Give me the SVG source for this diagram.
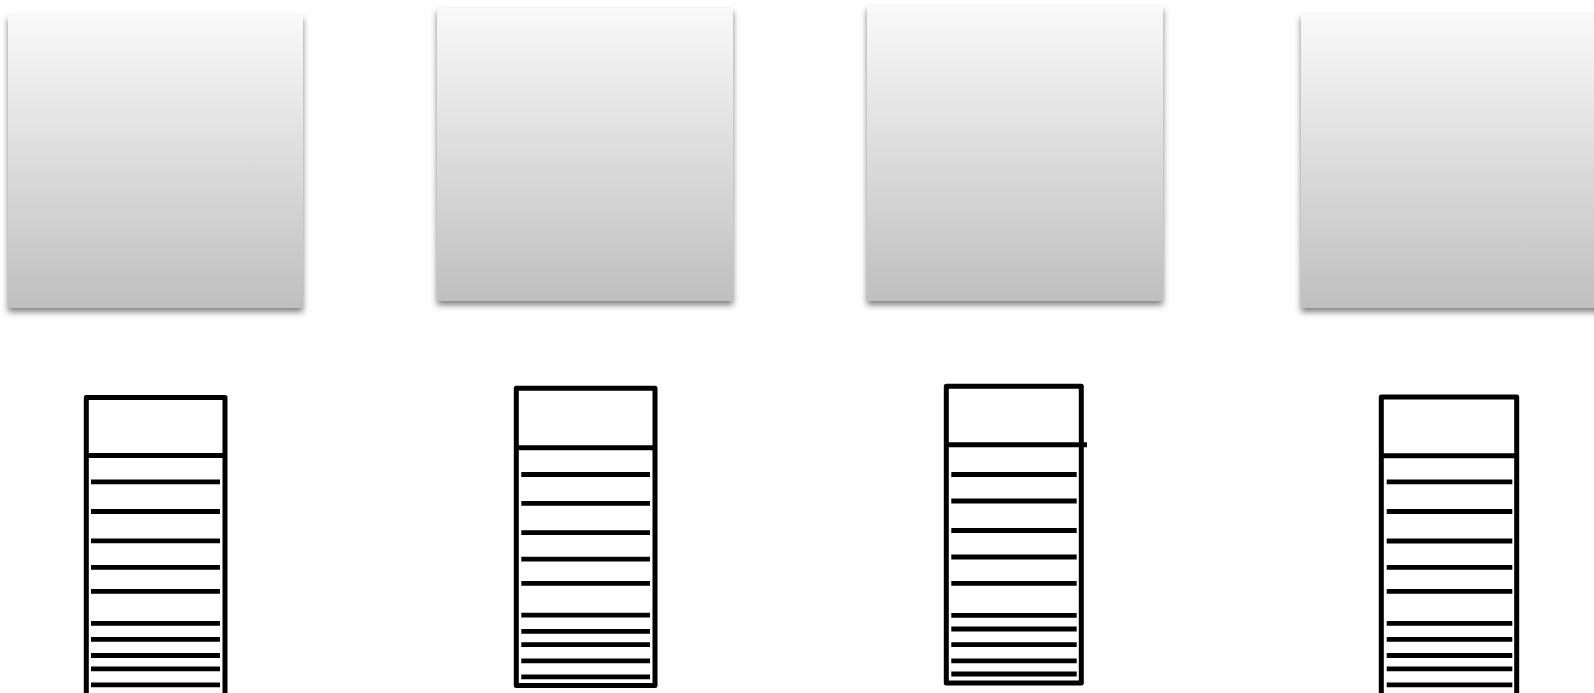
<svg xmlns="http://www.w3.org/2000/svg" width="1594" height="693" viewBox="0 0 1594 693">
  <style>
    .card { fill: url(#cardGrad); filter: url(#shadow); }
    .frame { fill: #ffffff; stroke: #000000; stroke-width: 5; stroke-linejoin: round; }
    .rule { stroke: #000000; stroke-width: 5; fill: none; }
    .row { stroke: #000000; stroke-width: 4.8; fill: none; }
  </style>
  <defs>
    <linearGradient id="cardGrad" x1="0" y1="0" x2="0" y2="1">
      <stop offset="0" stop-color="#f9f9f9"/>
      <stop offset="1" stop-color="#bfbfbf"/>
    </linearGradient>
    <filter id="shadow" x="-10%" y="-10%" width="120%" height="125%">
      <feDropShadow dx="0" dy="4" stdDeviation="3" flood-color="#000000" flood-opacity="0.5"/>
    </filter>
  </defs>
  <rect width="1594" height="693" fill="#ffffff"/>

  <g id="card1"><rect class="card" x="8" y="15" width="295" height="293"/></g>
  <g id="card2"><rect class="card" x="437" y="8" width="296" height="293"/></g>
  <g id="card3"><rect class="card" x="867" y="6" width="296" height="295"/></g>
  <g id="card4"><rect class="card" x="1301" y="14" width="300" height="294"/></g>

  <g id="stack1">
    <rect class="frame" x="86.3" y="397.5" width="138.7" height="300"/>
    <line class="rule" x1="84" y1="455.5" x2="227" y2="455.5"/>
    <path class="row" d="M91 481.8H220M91 511.5H220M91 540.8H220M91 567.3H220M91 591.4H220M91 623.3H220M91 639.4H220M91 655.5H220M91 668.8H220M91 684.9H220"/>
  </g>

  <g id="stack2">
    <rect class="frame" x="516.3" y="388.3" width="138.7" height="297.2"/>
    <line class="rule" x1="514" y1="447.8" x2="657" y2="447.8"/>
    <path class="row" d="M521.3 474.5H650M521.3 503.3H650M521.3 532.7H650M521.3 559.2H650M521.3 583.4H650M521.3 615.2H650M521.3 631.3H650M521.3 644.6H650M521.3 660.8H650M521.3 676.8H650"/>
  </g>

  <g id="stack3">
    <rect class="frame" x="946.3" y="386.3" width="135" height="296.7"/>
    <line class="rule" x1="944" y1="444.7" x2="1087" y2="444.7"/>
    <path class="row" d="M951.3 474.5H1076.7M951.3 501H1076.7M951.3 530.5H1076.7M951.3 557H1076.7M951.3 583.4H1076.7M951.3 615.3H1076.7M951.3 629H1076.7M951.3 644.6H1076.7M951.3 660.8H1076.7M951.3 674H1076.7"/>
  </g>

  <g id="stack4">
    <rect class="frame" x="1381.3" y="397" width="135.4" height="300"/>
    <line class="rule" x1="1379" y1="455.8" x2="1519" y2="455.8"/>
    <path class="row" d="M1386.7 481.8H1512.3M1386.7 511.5H1512.3M1386.7 541H1512.3M1386.7 567.3H1512.3M1386.7 591.4H1512.3M1386.7 623.3H1512.3M1386.7 639.4H1512.3M1386.7 655.5H1512.3M1386.7 668.8H1512.3M1386.7 684.9H1512.3"/>
  </g>
</svg>
